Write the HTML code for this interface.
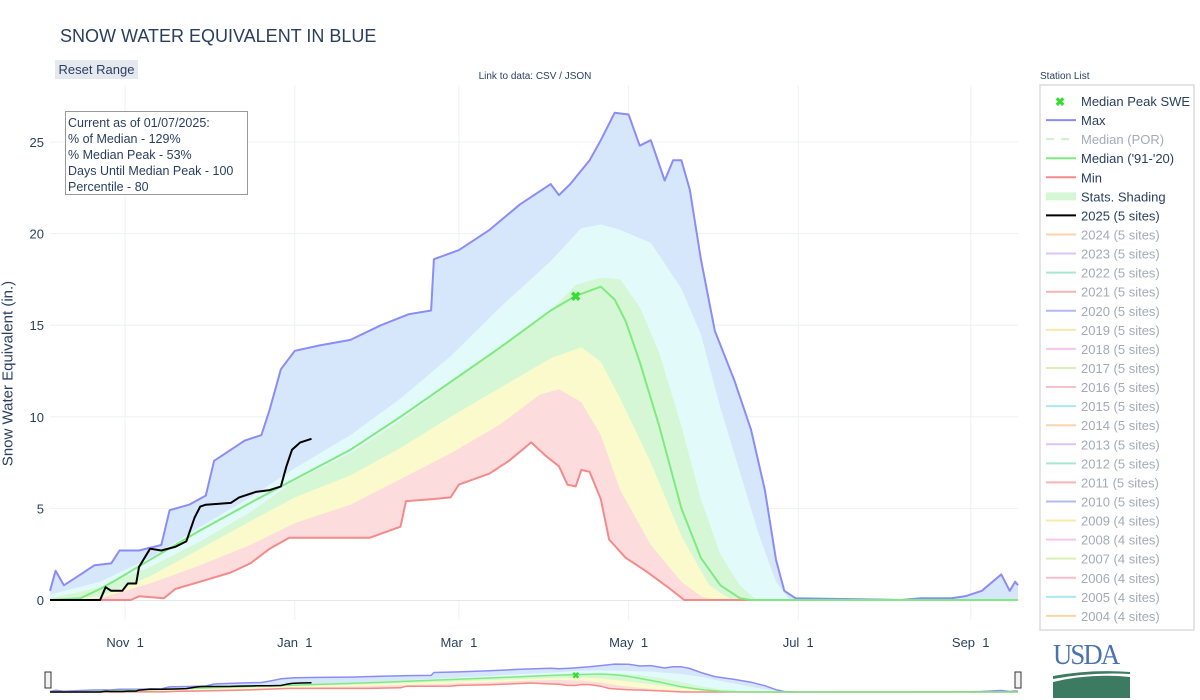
<!DOCTYPE html>
<html><head><meta charset="utf-8">
<style>
body{margin:0;background:#fff;font-family:"Liberation Sans",sans-serif;}
#wrap{position:relative;width:1200px;height:700px;overflow:hidden;}
svg text{font-family:"Liberation Sans",sans-serif;}
</style></head>
<body>
<div id="wrap">
<svg id="chart" width="1200" height="700"></svg>
</div>
<script>
// ---- data (day index from Oct 1 of water year) ----
const maxDays=[4,6,9,15,20,26,29,36,44,47,54,60,63,69,74,80,83,87,92,101,112,123,133,141,142,151,162,173,184,187,191,198,202,207,212,216,220,225,228,231,234,238,243,250,256,261,265,268,272,310,317,328,333,339,346,349,351,352];
const maxVals=[0.5,1.6,0.8,1.4,1.9,2.0,2.7,2.7,3.0,4.9,5.2,5.7,7.6,8.2,8.7,9.0,10.4,12.6,13.6,13.9,14.2,15.0,15.6,15.8,18.6,19.1,20.2,21.6,22.7,22.1,22.7,24.0,25.1,26.6,26.5,24.8,25.1,22.9,24.0,24.0,22.4,18.6,14.7,12.0,9.3,6.0,2.2,0.5,0.1,0,0.1,0.1,0.2,0.5,1.4,0.5,1.0,0.8];
const p90Days=[4,22,40,58,76,92,112,130,148,166,184,195,202,209,220,231,238,245,252,259,265,270,352];
const p90Vals=[0.3,1.0,2.3,4.0,5.6,7.2,9.0,11.0,13.3,16.0,18.5,20.3,20.5,20.2,19.5,17.0,14.5,10.5,7.0,3.5,1.0,0,0];
const p70Days=[4,22,40,58,76,92,112,130,148,166,184,193,202,209,216,223,231,238,245,252,258,352];
const p70Vals=[0.1,0.7,1.8,3.2,4.8,6.5,8.0,9.8,11.8,13.8,15.8,17.2,17.6,17.5,16.0,13.5,9.5,5.5,2.5,0.8,0,0];
const medDays=[4,15,22,29,40,58,76,92,112,130,148,166,184,193,202,207,211,216,223,231,238,245,252,256,352];
const medVals=[0,0.1,0.6,1.2,2.2,3.8,5.3,6.6,8.2,10.0,11.9,13.8,15.8,16.6,17.1,16.4,15.2,13.0,9.5,5.0,2.3,0.8,0.1,0,0];
const p30Days=[4,22,40,58,76,92,112,130,148,166,184,195,202,209,220,231,241,249,352];
const p30Vals=[0,0.2,1.3,2.8,4.3,5.6,6.8,8.3,10.0,11.6,13.2,13.8,13.0,11.0,7.5,3.5,0.8,0,0];
const p10Days=[4,22,40,58,76,92,112,130,148,166,180,187,195,202,209,220,231,238,243,352];
const p10Vals=[0,0.1,0.9,1.9,3.0,4.2,5.2,6.6,8.0,9.6,11.2,11.5,10.8,9.0,6.0,3.0,1.0,0.2,0,0];
const minDays=[4,33,36,45,49,58,69,76,83,90,101,119,130,132,141,148,151,162,169,177,182,187,190,193,195,198,202,205,211,218,227,232,352];
const minVals=[0,0,0.2,0.1,0.6,1.0,1.5,2.0,2.8,3.4,3.4,3.4,4.0,5.4,5.5,5.6,6.3,6.9,7.6,8.6,7.9,7.3,6.3,6.2,7.1,7.0,5.5,3.3,2.3,1.6,0.6,0,0];
const curDays=[4,22,24,26,30,32,35,36,40,44,49,53,56,58,60,69,72,78,83,87,89,91,94,98];
const curVals=[0,0,0.7,0.5,0.5,0.9,0.9,1.8,2.8,2.7,2.9,3.2,4.5,5.1,5.2,5.3,5.6,5.9,6.0,6.2,7.3,8.2,8.6,8.8];
const peakDay=[193];
const peakVal=[16.6];
const yTicks=[0,5,10,15,20,25];
const xTickDays=[31,92,151,212,273,335];
const xTickLabels=["Nov  1","Jan  1","Mar  1","May  1","Jul  1","Sep  1"];
const legendLabels=["Median Peak SWE","Max","Median (POR)","Median ('91-'20)","Min","Stats. Shading","2025 (5 sites)","2024 (5 sites)","2023 (5 sites)","2022 (5 sites)","2021 (5 sites)","2020 (5 sites)","2019 (5 sites)","2018 (5 sites)","2017 (5 sites)","2016 (5 sites)","2015 (5 sites)","2014 (5 sites)","2013 (5 sites)","2012 (5 sites)","2011 (5 sites)","2010 (5 sites)","2009 (4 sites)","2008 (4 sites)","2007 (4 sites)","2006 (4 sites)","2005 (4 sites)","2004 (4 sites)"];
const legendColors=["#33dd33","#8c8cf8","#ccf2cc","#7fea7f","#f48a8a","#d5f7d5","#000","#fdd4a8","#dcc4f6","#a6e8d4","#f7b4b4","#b4b8f8","#fbe8a8","#f8c4f0","#d8f0b4","#f8c0cc","#a8e8f4","#fdd4a8","#dcc4f6","#a6e8d4","#f7b4b4","#b4b8f8","#fbe8a8","#f8c4f0","#d8f0b4","#f8c0cc","#a8e8f4","#fdd4a8"];

const NS="http://www.w3.org/2000/svg";
const svg=document.getElementById('chart');
const X0=50,X1=1018,D0=4,D1=352,Y0=600,PPU=18.32;
const xs=d=>X0+(d-D0)*(X1-X0)/(D1-D0);
const ys=v=>Y0-v*PPU;
function mk(t,a,p){const e=document.createElementNS(NS,t);for(const k in a)e.setAttribute(k,a[k]);(p||svg).appendChild(e);return e;}
function pts(D,V){return D.map((d,i)=>xs(d).toFixed(1)+","+ys(V[i]).toFixed(1));}
function area(D,V,fill,name){const p=pts(D,V);p.push(xs(D[D.length-1])+","+Y0);p.push(xs(D[0])+","+Y0);
 const e=mk('polygon',{points:p.join(' '),fill:fill});
 
 }
function line(D,V,st,w,name,sv,sy){const e=mk('polyline',{points:pts(D,V).join(' '),fill:'none',stroke:st,'stroke-width':w,'stroke-linejoin':'round'},sv);
 if(sv){e.setAttribute('points',D.map((d,i)=>xs(d).toFixed(1)+","+(sy(V[i])).toFixed(1)).join(' '));}
 
 }

// gridlines
xTickDays.forEach((d,i)=>{const g=mk('line',{x1:xs(d),x2:xs(d),y1:85,y2:620,stroke:'#eef1f6','stroke-width':1});
 
 
 const t=mk('text',{x:xs(d),y:647,'text-anchor':'middle','font-size':13,fill:'#2a3f5f',style:'white-space:pre'});t.textContent=xTickLabels[i];
 
 });
yTicks.forEach(v=>{const g=mk('line',{x1:X0,x2:X1,y1:ys(v),y2:ys(v),stroke:v===0?'#e3e8f0':'#eef1f6','stroke-width':v===0?2:1});
 
 
 const t=mk('text',{x:44,y:ys(v)+5,'text-anchor':'end','font-size':13,fill:'#2a3f5f'});t.textContent=v;
 
 });

area(maxDays,maxVals,'#d6e6fb','shade-max-90');
area(p90Days,p90Vals,'#e3fafa','shade-90-70');
area(p70Days,p70Vals,'#d5f7d5','shade-70-30');
area(p30Days,p30Vals,'#fafacc','shade-30-10');
area(p10Days,p10Vals,'#fcdcdc','shade-10-min');
area(minDays,minVals,'#ffffff','below-min');
line(maxDays,maxVals,'#8c8cf8',2,'max-line');
line(minDays,minVals,'#f48a8a',2,'min-line');
line(medDays,medVals,'#7fea7f',2,'median-line');
line(curDays,curVals,'#000',2,'current-year-line');
const pk=mk('text',{x:xs(peakDay[0]),y:ys(peakVal[0])+5,'text-anchor':'middle','font-size':13,'font-weight':'bold',fill:'#33dd33'});pk.textContent='✖';



// range slider mini chart
const sy=v=>692-v*1.05;
const mini=mk('g',{});


function marea(D,V,fill){const p=D.map((d,i)=>xs(d).toFixed(1)+","+sy(V[i]).toFixed(1));p.push(xs(D[D.length-1])+",692");p.push(xs(D[0])+",692");mk('polygon',{points:p.join(' '),fill:fill},mini);}
marea(maxDays,maxVals,'#d6e6fb');marea(p90Days,p90Vals,'#e3fafa');marea(p70Days,p70Vals,'#d5f7d5');marea(p30Days,p30Vals,'#fafacc');marea(p10Days,p10Vals,'#fcdcdc');marea(minDays,minVals,'#fff');
line(maxDays,maxVals,'#8c8cf8',1.5,'mini-max',mini,sy);
line(minDays,minVals,'#f48a8a',1.5,'mini-min',mini,sy);
line(medDays,medVals,'#7fea7f',1.5,'mini-median',mini,sy);
line(curDays,curVals,'#000',1.5,'mini-current',mini,sy);
const mp=mk('text',{x:xs(peakDay[0]),y:sy(peakVal[0])+4,'text-anchor':'middle','font-size':9,'font-weight':'bold',fill:'#33dd33'},mini);mp.textContent='✖';
[48,1018].forEach(x=>{const h=mk('rect',{x:x-3,y:672,width:6,height:16,fill:'#f2f2f2',stroke:'#333','stroke-width':1});
 
 });

// legend
const lb=mk('rect',{x:1040,y:85,width:154,height:545,fill:'#fff',stroke:'#dcdcdc','stroke-width':1.5});


legendLabels.forEach((lab,i)=>{const y=101+i*19.07;const active=(i<7&&i!==2);
 if(i===0){const m=mk('text',{x:1060,y:y+5,'text-anchor':'middle','font-size':12,'font-weight':'bold',fill:legendColors[i]});m.textContent='✖';}
 else if(i===5){mk('rect',{x:1046,y:y-4,width:30,height:8,fill:legendColors[i]});}
 else{mk('line',{x1:1046,x2:1076,y1:y,y2:y,stroke:legendColors[i],'stroke-width':2,'stroke-dasharray':i===2?'8,7':'none'});}
 const t=mk('text',{x:1081,y:y+5,'font-size':13,fill:active?'#2a3f5f':'#a3abb8'});t.textContent=lab;
 
 });
</script>
<div style="position:absolute;left:60px;top:26px;font-size:18px;color:#2a3f5f;">SNOW WATER EQUIVALENT IN BLUE</div>
<div style="position:absolute;left:55px;top:60px;width:83px;height:19px;background:#e5e8ee;font-size:13px;color:#2a3f5f;text-align:center;line-height:19px;">Reset Range</div>
<div style="position:absolute;left:435px;top:71px;width:200px;text-align:center;font-size:10px;color:#2a3f5f;">Link to data: CSV / JSON</div>
<div style="position:absolute;left:1040px;top:71px;font-size:10px;color:#2a3f5f;">Station List</div>
<div style="position:absolute;left:-92px;top:365px;width:200px;text-align:center;white-space:nowrap;transform:rotate(-90deg);font-size:15px;color:#2a3f5f;">Snow Water Equivalent (in.)</div>
<div style="position:absolute;left:65px;top:111px;width:183px;height:84px;border:1px solid #999;background:#fff;font-size:12.5px;line-height:16px;color:#2a3f5f;padding:3px 0 0 2px;box-sizing:border-box;">Current as of 01/07/2025:<br>% of Median - 129%<br>% Median Peak - 53%<br>Days Until Median Peak - 100<br>Percentile - 80</div>
<div style="position:absolute;left:1053px;top:642px;width:77px;height:55px;">
<div style="font-family:'Liberation Serif',serif;font-size:29px;color:#4a72b0;line-height:26px;letter-spacing:-2px;transform:scaleX(0.92);transform-origin:left;">USDA</div>
<svg width="77" height="28" style="position:absolute;top:28px;left:0"><path d="M0,6 Q38,-1 77,2 L77,4 Q38,2 0,9Z" fill="#3d7a62"/><path d="M0,12 Q38,3 77,7 L77,28 L0,28Z" fill="#3d7a62"/></svg>
</div>
</body></html>
